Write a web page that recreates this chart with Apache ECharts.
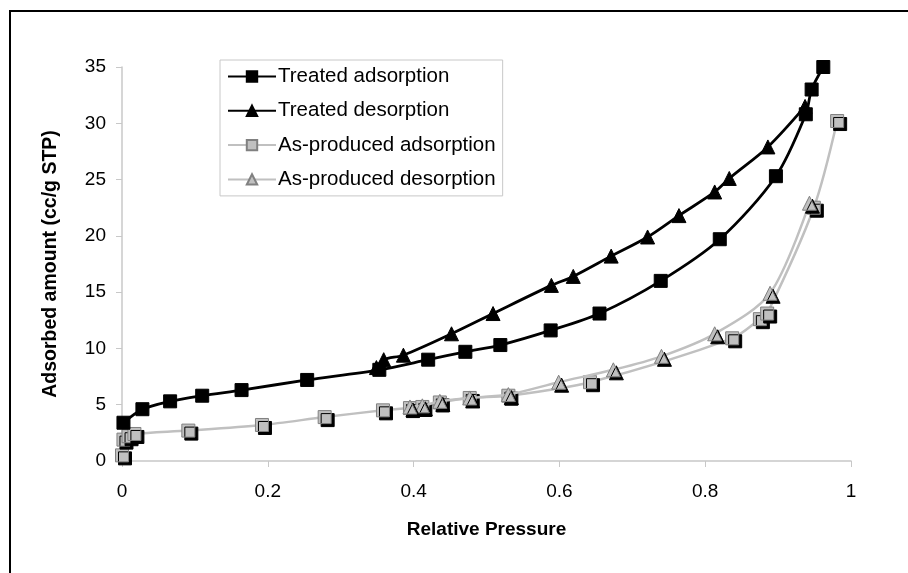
<!DOCTYPE html>
<html><head><meta charset="utf-8">
<script src="https://cdn.jsdelivr.net/npm/echarts@6/dist/echarts.min.js"></script>
<style>html,body{margin:0;padding:0;background:#fff}#c{width:908px;height:573px}</style>
</head><body><div id="c"></div>
<script>
var seriesNames = ['Treated adsorption','Treated desorption','As-produced adsorption','As-produced desorption'];
var xTicks = ['0','0.2','0.4','0.6','0.8','1'];
var yTicks = ['0','5','10','15','20','25','30','35'];

var treatedAdsX = [0.002,0.028,0.066,0.110,0.164,0.254,0.353,0.420,0.471,0.519,0.588,0.655,0.739,0.820,0.897,0.938,0.946,0.962];
var treatedAdsY = [3.4,4.6,5.3,5.8,6.3,7.2,8.1,9.0,9.7,10.3,11.6,13.1,16.0,19.7,25.3,30.8,33.0,35.0];

var treatedDesX = [0.937,0.886,0.833,0.813,0.764,0.721,0.671,0.619,0.589,0.509,0.452,0.386,0.359,0.349];
var treatedDesY = [31.5,27.9,25.1,23.9,21.8,19.9,18.2,16.4,15.6,13.1,11.3,9.4,9.0,8.3];

var asAdsX = [0.000,0.002,0.009,0.017,0.091,0.192,0.278,0.358,0.395,0.412,0.436,0.477,0.530,0.642,0.837,0.875,0.885,0.949,0.981];
var asAdsY = [0.5,1.9,2.2,2.4,2.7,3.2,3.9,4.5,4.7,4.8,5.2,5.6,5.8,7.0,10.9,12.6,13.1,22.5,30.2];

var asDesX = [0.943,0.889,0.813,0.740,0.674,0.599,0.530,0.477,0.436,0.412,0.395];
var asDesY = [22.9,14.9,11.3,9.3,8.1,7.0,5.9,5.6,5.3,4.9,4.8];

function pairs(xs, ys){ return xs.map(function(x,i){ return [x, ys[i]]; }); }

var font = 'Liberation Sans, Arial, sans-serif';
var chart = echarts.init(document.getElementById('c'));
var blackSym = {color:'#000', borderColor:'#000', borderWidth:1};
var graySym = {color:'#c0c0c0', borderColor:'#808080', borderWidth:1, shadowColor:'#000', shadowOffsetX:3, shadowOffsetY:3, shadowBlur:0};
chart.setOption({
  animation:false,
  backgroundColor:'#fff',
  graphic:[
    {type:'line', shape:{x1:9,y1:11,x2:908,y2:11}, style:{stroke:'#000', lineWidth:2}},
    {type:'line', shape:{x1:10,y1:10,x2:10,y2:573}, style:{stroke:'#000', lineWidth:2}}
  ],
  grid:{left:122, right:57, top:67, bottom:112},
  legend:{
    orient:'vertical', left:220, top:60,
    itemWidth:48, itemHeight:13, itemGap:13.3,
    padding:[6,7,6,7],
    borderColor:'#c8c8c8', borderWidth:1,
    textStyle:{fontFamily:font, fontSize:20.5, color:'#000', padding:[0,0,0,-3]},
    data:[
      {name:seriesNames[0]},
      {name:seriesNames[1]},
      {name:seriesNames[2], itemStyle:{shadowColor:'transparent',shadowOffsetX:0,shadowOffsetY:0}},
      {name:seriesNames[3], itemStyle:{shadowColor:'transparent',shadowOffsetX:0,shadowOffsetY:0}}
    ]
  },
  xAxis:{
    type:'value', min:0, max:1, interval:0.2,
    name:'Relative Pressure', nameLocation:'middle', nameGap:59,
    nameTextStyle:{fontFamily:font, fontSize:19, fontWeight:'bold', color:'#000'},
    axisLine:{lineStyle:{color:'#c8c8c8', width:1.5}},
    axisTick:{show:true, length:6, lineStyle:{color:'#c8c8c8'}},
    splitLine:{show:false},
    axisLabel:{fontFamily:font, fontSize:19, color:'#000', margin:21,
      formatter:function(v){ var s = xTicks[Math.round(v/0.2)]; return s===undefined?'':s; }}
  },
  yAxis:{
    type:'value', min:0, max:35, interval:5,
    name:'Adsorbed amount (cc/g STP)', nameLocation:'middle', nameGap:61,
    nameTextStyle:{fontFamily:font, fontSize:19.5, fontWeight:'bold', color:'#000'},
    axisLine:{show:true, lineStyle:{color:'#c8c8c8', width:1.5}},
    axisTick:{show:true, length:6, lineStyle:{color:'#c8c8c8'}},
    splitLine:{show:false},
    axisLabel:{fontFamily:font, fontSize:19, color:'#000', margin:16,
      formatter:function(v){ var s = yTicks[Math.round(v/5)]; return s===undefined?'':s; }}
  },
  series:[
    {name:seriesNames[2], type:'line', smooth:0.3, data:pairs(asAdsX, asAdsY), symbol:'rect', symbolSize:13,
     lineStyle:{color:'#c0c0c0', width:2.5}, itemStyle:graySym, z:2},
    {name:seriesNames[3], type:'line', smooth:0.3, data:pairs(asDesX, asDesY), symbol:'triangle', symbolSize:14,
     lineStyle:{color:'#c0c0c0', width:2.5}, itemStyle:graySym, z:3},
    {name:seriesNames[0], type:'line', smooth:0.3, data:pairs(treatedAdsX, treatedAdsY), symbol:'rect', symbolSize:13,
     lineStyle:{color:'#000', width:2.8}, itemStyle:blackSym, z:4},
    {name:seriesNames[1], type:'line', smooth:0.3, data:pairs(treatedDesX, treatedDesY), symbol:'triangle', symbolSize:14,
     lineStyle:{color:'#000', width:2.8}, itemStyle:blackSym, z:5}
  ]
});
</script></body></html>
